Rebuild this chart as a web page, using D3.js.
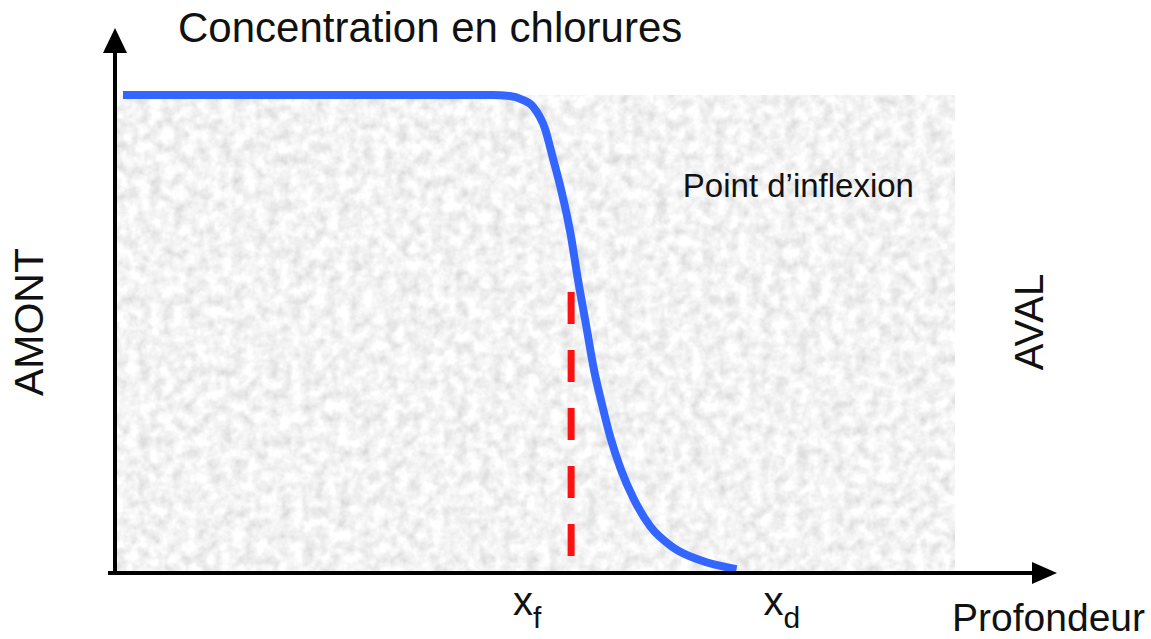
<!DOCTYPE html>
<html>
<head>
<meta charset="utf-8">
<script src="https://cdn.jsdelivr.net/npm/d3@7"></script>
<style>
  html, body { margin: 0; padding: 0; background: #fff; }
  svg { display: block; font-family: "Liberation Sans", Arial, sans-serif; }
</style>
</head>
<body>
<div id="wrapper"></div>
<script>
// profil de concentration (unités arbitraires 0-100)
const profondeur    = [0.95, 45.0, 47.0, 48.4, 49.8, 51.2, 52.1, 53.2, 54.2, 55.1, 56.1, 57.0, 58.0, 59.0, 60.2, 61.7, 63.7, 66.4, 69.6, 74.0];
const concentration = [100, 100, 99.8, 99.1, 97.5, 92.9, 87.0, 79.5, 71.3, 61.5, 51.7, 42.7, 35.1, 28.2, 21.8, 15.7, 9.8, 5.4, 2.7, 0.8];

// front (x_f) et point de départ (x_d)
const xfProf = 54.3;
const xdProf = 74.0;
const xfConcTop = 58.8;
const xfConcBottom = 3.3;

const titre = 'Concentration en chlorures';
const labelInflexion = 'Point d\u2019inflexion';
const labelAmont = 'AMONT';
const labelAval = 'AVAL';
const labelProf = 'Profondeur';

drawChart();

function drawChart() {
  let dimensions = {
    width: 1151,
    height: 639,
    margin: { top: 95, right: 196, bottom: 66, left: 115 }
  };
  dimensions.boundW = dimensions.width - dimensions.margin.left - dimensions.margin.right;
  dimensions.boundH = dimensions.height - dimensions.margin.top - dimensions.margin.bottom;

  const svg = d3.select('#wrapper').append('svg')
    .attr('width', dimensions.width)
    .attr('height', dimensions.height);

  // texture grise
  const defs = svg.append('defs');
  const filt = defs.append('filter')
    .attr('id', 'grain')
    .attr('filterUnits', 'objectBoundingBox')
    .attr('x', 0).attr('y', 0).attr('width', 1).attr('height', 1);
  filt.append('feTurbulence')
    .attr('type', 'fractalNoise')
    .attr('baseFrequency', 0.085)
    .attr('numOctaves', 3)
    .attr('seed', 4)
    .attr('result', 'noise');
  filt.append('feColorMatrix')
    .attr('in', 'noise')
    .attr('type', 'matrix')
    .attr('values', '0.5 0 0 0 0.65  0.5 0 0 0 0.65  0.5 0 0 0 0.65  0 0 0 0 1')
    .attr('result', 'grey');
  filt.append('feComposite')
    .attr('in', 'grey').attr('in2', 'SourceGraphic').attr('operator', 'in');

  const bounds = svg.append('g')
    .attr('transform', `translate(${dimensions.margin.left},${dimensions.margin.top})`);

  const xScale = d3.scaleLinear().domain([0, 100]).range([0, dimensions.boundW]);
  const yScale = d3.scaleLinear().domain([0, 100]).range([dimensions.boundH, 0]);

  // fond
  bounds.append('rect')
    .attr('x', xScale(0) + 2)
    .attr('y', yScale(100))
    .attr('width', xScale(100) - xScale(0) - 2)
    .attr('height', yScale(0) - yScale(100) - 2)
    .attr('fill', '#ddd')
    .attr('filter', 'url(#grain)');

  // ligne rouge pointillée
  bounds.append('line')
    .attr('x1', xScale(xfProf)).attr('x2', xScale(xfProf))
    .attr('y1', yScale(xfConcTop)).attr('y2', yScale(xfConcBottom))
    .attr('stroke', '#ff1010')
    .attr('stroke-width', 7)
    .attr('stroke-dasharray', '32 26');

  // courbe
  const data = profondeur.map((p, i) => ({ p: p, c: concentration[i] }));
  const lineGen = d3.line()
    .curve(d3.curveMonotoneX)
    .x(d => xScale(d.p))
    .y(d => yScale(d.c));

  bounds.append('path')
    .attr('d', lineGen(data))
    .attr('fill', 'none')
    .attr('stroke', '#3366ff')
    .attr('stroke-width', 8);

  // axes avec flèches
  const x0 = xScale(0), y0 = yScale(0);
  bounds.append('line')
    .attr('x1', x0).attr('x2', x0)
    .attr('y1', y0 + 2).attr('y2', -42)
    .attr('stroke', '#000').attr('stroke-width', 4);
  bounds.append('path')
    .attr('d', `M${x0 - 12},-42 L${x0 + 12},-42 L${x0},-67 Z`)
    .attr('fill', '#000');

  bounds.append('line')
    .attr('x1', x0 - 7).attr('x2', dimensions.boundW + 78)
    .attr('y1', y0).attr('y2', y0)
    .attr('stroke', '#000').attr('stroke-width', 4);
  bounds.append('path')
    .attr('d', `M${dimensions.boundW + 77},${y0 - 11} L${dimensions.boundW + 77},${y0 + 11} L${dimensions.boundW + 102},${y0} Z`)
    .attr('fill', '#000');

  // textes
  svg.append('text')
    .attr('x', 178).attr('y', 42)
    .attr('font-size', 42)
    .attr('fill', '#111')
    .text(titre);

  bounds.append('text')
    .attr('x', xScale(67.6)).attr('y', yScale(78.7))
    .attr('font-size', 33)
    .attr('fill', '#111')
    .text(labelInflexion);

  svg.append('text')
    .attr('transform', `translate(43,${dimensions.margin.top + yScale(52.5)}) rotate(-90)`)
    .attr('text-anchor', 'middle')
    .attr('font-size', 41)
    .attr('fill', '#111')
    .text(labelAmont);

  svg.append('text')
    .attr('transform', `translate(1043,${dimensions.margin.top + yScale(52.5)}) rotate(-90)`)
    .attr('text-anchor', 'middle')
    .attr('font-size', 40)
    .attr('fill', '#111')
    .text(labelAval);

  svg.append('text')
    .attr('x', 1145).attr('y', 631)
    .attr('text-anchor', 'end')
    .attr('font-size', 39)
    .attr('fill', '#111')
    .text(labelProf);

  // x_f et x_d
  const subs = [
    { p: xfProf, dx: -58, sub: 'f' },
    { p: xdProf, dx: 27, sub: 'd' }
  ];
  const tl = bounds.selectAll('.tick-lab').data(subs).enter()
    .append('text')
    .attr('class', 'tick-lab')
    .attr('x', d => xScale(d.p) + d.dx)
    .attr('y', y0 + 42)
    .attr('font-size', 40)
    .attr('fill', '#111');
  tl.append('tspan').text('x');
  tl.append('tspan').attr('font-size', 30).attr('dy', 13).text(d => d.sub);
}
</script>
</body>
</html>
